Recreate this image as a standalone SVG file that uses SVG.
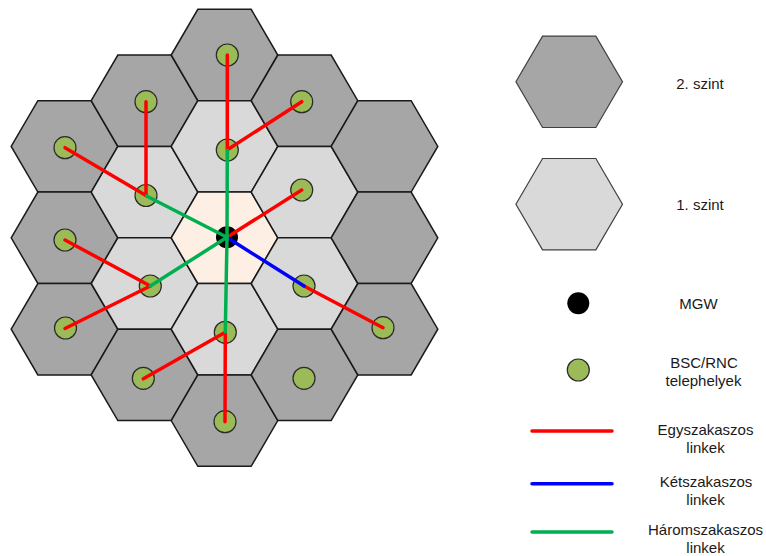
<svg xmlns="http://www.w3.org/2000/svg" xmlns:xlink="http://www.w3.org/1999/xlink" width="766" height="556" viewBox="0 0 766 556">
<style>
.l2{fill:#A6A6A6;stroke:#1a1a1a;stroke-width:1.5}
.l1{fill:#D9D9D9;stroke:#1a1a1a;stroke-width:1.5}
.l0{fill:#FDEFE4;stroke:#1a1a1a;stroke-width:1.5}
.lg2{fill:#A6A6A6;stroke:#404040;stroke-width:1.2}
.lg1{fill:#D9D9D9;stroke:#404040;stroke-width:1.2}
.site{fill:#9BBB59;stroke:#2a2a2a;stroke-width:1.2}
.mgw{fill:#000}
.r{stroke:#FF0000;stroke-width:3.5;fill:none;stroke-linecap:round}
.b{stroke:#0000FF;stroke-width:3.5;fill:none;stroke-linecap:round}
.g{stroke:#00B050;stroke-width:3.5;fill:none;stroke-linecap:round}
text{font-family:"Liberation Sans",Arial,sans-serif;font-size:15px;fill:#1a1a1a;text-anchor:middle}
</style>
<defs>
<polygon id="hex" points="-53.3,0 -26.65,-45.7 26.65,-45.7 53.3,0 26.65,45.7 -26.65,45.7"/>
</defs>
<g id="cells">
<g id="cell-a1"><use xlink:href="#hex" href="#hex" class="l2" x="64.5" y="146.4"/></g>
<g id="cell-a2"><use xlink:href="#hex" href="#hex" class="l2" x="64.5" y="237.8"/></g>
<g id="cell-a3"><use xlink:href="#hex" href="#hex" class="l2" x="64.5" y="329.2"/></g>
<g id="cell-b1"><use xlink:href="#hex" href="#hex" class="l2" x="144.5" y="100.7"/></g>
<g id="cell-b2"><use xlink:href="#hex" href="#hex" class="l1" x="144.5" y="192.1"/></g>
<g id="cell-b3"><use xlink:href="#hex" href="#hex" class="l1" x="144.5" y="283.5"/></g>
<g id="cell-b4"><use xlink:href="#hex" href="#hex" class="l2" x="144.5" y="374.9"/></g>
<g id="cell-c1"><use xlink:href="#hex" href="#hex" class="l2" x="224.5" y="55"/></g>
<g id="cell-c2"><use xlink:href="#hex" href="#hex" class="l1" x="224.5" y="146.4"/></g>
<g id="cell-c3"><use xlink:href="#hex" href="#hex" class="l0" x="224.5" y="237.8"/></g>
<g id="cell-c4"><use xlink:href="#hex" href="#hex" class="l1" x="224.5" y="329.2"/></g>
<g id="cell-c5"><use xlink:href="#hex" href="#hex" class="l2" x="224.5" y="420.6"/></g>
<g id="cell-d1"><use xlink:href="#hex" href="#hex" class="l2" x="304.5" y="100.7"/></g>
<g id="cell-d2"><use xlink:href="#hex" href="#hex" class="l1" x="304.5" y="192.1"/></g>
<g id="cell-d3"><use xlink:href="#hex" href="#hex" class="l1" x="304.5" y="283.5"/></g>
<g id="cell-d4"><use xlink:href="#hex" href="#hex" class="l2" x="304.5" y="374.9"/></g>
<g id="cell-e1"><use xlink:href="#hex" href="#hex" class="l2" x="384.5" y="146.4"/></g>
<g id="cell-e2"><use xlink:href="#hex" href="#hex" class="l2" x="384.5" y="237.8"/></g>
<g id="cell-e3"><use xlink:href="#hex" href="#hex" class="l2" x="384.5" y="329.2"/></g>
</g>
<g id="sites">
<g id="site-1"><circle class="site" cx="227.3" cy="55" r="11"/></g>
<g id="site-2"><circle class="site" cx="146" cy="101.7" r="11"/></g>
<g id="site-3"><circle class="site" cx="301.7" cy="101.7" r="11"/></g>
<g id="site-4"><circle class="site" cx="65" cy="147.7" r="11"/></g>
<g id="site-5"><circle class="site" cx="227.3" cy="150" r="11"/></g>
<g id="site-6"><circle class="site" cx="146" cy="195.5" r="11"/></g>
<g id="site-7"><circle class="site" cx="301.7" cy="190" r="11"/></g>
<g id="site-8"><circle class="site" cx="65" cy="240" r="11"/></g>
<g id="site-9"><circle class="site" cx="150.3" cy="286" r="11"/></g>
<g id="site-10"><circle class="site" cx="304" cy="286" r="11"/></g>
<g id="site-11"><circle class="site" cx="65.5" cy="328" r="11"/></g>
<g id="site-12"><circle class="site" cx="225.3" cy="332.3" r="11"/></g>
<g id="site-13"><circle class="site" cx="383" cy="327.7" r="11"/></g>
<g id="site-14"><circle class="site" cx="143.3" cy="378.3" r="11"/></g>
<g id="site-15"><circle class="site" cx="304" cy="378.3" r="11"/></g>
<g id="site-16"><circle class="site" cx="225" cy="421.7" r="11"/></g>
<g id="mgw"><circle class="mgw" cx="227" cy="237.3" r="11"/></g>
</g>
<g id="connectors">
<line class="r" x1="227.3" y1="55" x2="227.3" y2="149.5"/>
<line class="r" x1="301.7" y1="101.7" x2="227.8" y2="149.5"/>
<line class="r" x1="146" y1="101.7" x2="146" y2="195.5"/>
<line class="r" x1="65" y1="147.7" x2="146" y2="195.5"/>
<line class="r" x1="227" y1="237.3" x2="301.7" y2="190"/>
<line class="r" x1="65" y1="240" x2="150.3" y2="286"/>
<line class="r" x1="65" y1="328.5" x2="150.3" y2="286"/>
<line class="r" x1="304" y1="286" x2="383" y2="327.7"/>
<line class="r" x1="143.3" y1="378.8" x2="225.3" y2="332.3"/>
<line class="r" x1="225.3" y1="332.3" x2="225" y2="421.7"/>
<line class="b" x1="227.5" y1="237.8" x2="304" y2="286"/>
<line class="g" x1="227.3" y1="150.5" x2="227" y2="237.3"/>
<line class="g" x1="146.5" y1="196" x2="227" y2="237.3"/>
<line class="g" x1="150.3" y1="286" x2="227" y2="237.3"/>
<line class="g" x1="227" y1="237.3" x2="225.3" y2="332"/>
</g>
<g id="legend">
<g id="legend-l2"><use xlink:href="#hex" href="#hex" class="lg2" x="569.2" y="81.8" transform="translate(0,0)"/><text x="700" y="89">2. szint</text></g>
<g id="legend-l1"><use xlink:href="#hex" href="#hex" class="lg1" x="569.2" y="204.2"/><text x="700" y="210">1. szint</text></g>
<g id="legend-mgw"><circle class="mgw" cx="578.3" cy="303.3" r="11"/><text x="698.5" y="309">MGW</text></g>
<g id="legend-site"><circle class="site" cx="578.3" cy="370" r="11"/><text x="704" y="368">BSC/RNC</text><text x="703.5" y="386">telephelyek</text></g>
<g id="legend-r"><line class="r" x1="532" y1="431" x2="612" y2="431"/><text x="705.5" y="435">Egyszakaszos</text><text x="705.5" y="453">linkek</text></g>
<g id="legend-b"><line class="b" x1="532" y1="483.7" x2="612" y2="483.7"/><text x="706" y="487">Kétszakaszos</text><text x="705.5" y="505">linkek</text></g>
<g id="legend-g"><line class="g" x1="532" y1="532" x2="612" y2="532"/><text x="705.5" y="535">Háromszakaszos</text><text x="705.5" y="553">linkek</text></g>
</g>
</svg>
